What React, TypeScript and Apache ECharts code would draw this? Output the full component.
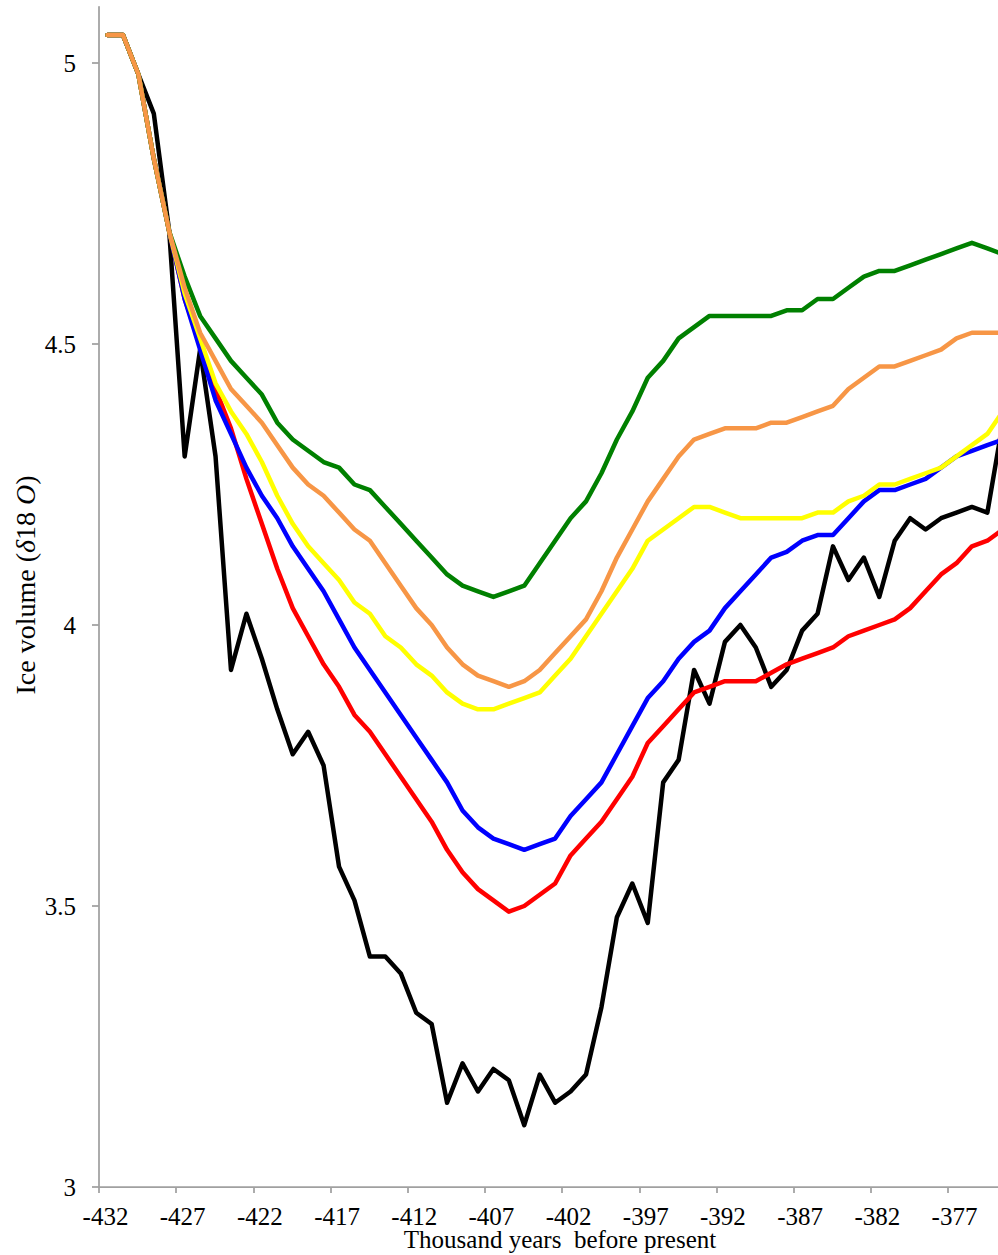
import React, { useEffect, useRef } from "react";
import * as echarts from "echarts";

// Ice-volume (δ18O) trajectories, one value per thousand years, oldest first.
const FIRST_AGE = -431.45; // age of the first sample, thousand years before present
const X_MIN = -432;
const X_MAX = -373.76;
const Y_MIN = 3;
const Y_MAX = 5.1;

const xTickValues = [-432, -427, -422, -417, -412, -407, -402, -397, -392, -387, -382, -377];
const yTickValues = [3, 3.5, 4, 4.5, 5];

const blackValues = [
  5.05, 5.05, 4.98, 4.91, 4.7, 4.3, 4.49, 4.3, 3.92, 4.02,
  3.94, 3.85, 3.77, 3.81, 3.75, 3.57, 3.51, 3.41, 3.41, 3.38,
  3.31, 3.29, 3.15, 3.22, 3.17, 3.21, 3.19, 3.11, 3.2, 3.15,
  3.17, 3.2, 3.32, 3.48, 3.54, 3.47, 3.72, 3.76, 3.92, 3.86,
  3.97, 4.0, 3.96, 3.89, 3.92, 3.99, 4.02, 4.14, 4.08, 4.12,
  4.05, 4.15, 4.19, 4.17, 4.19, 4.2, 4.21, 4.2, 4.36,
];

const redValues = [
  5.05, 5.05, 4.98, 4.83, 4.7, 4.58, 4.5, 4.42, 4.35, 4.26,
  4.18, 4.1, 4.03, 3.98, 3.93, 3.89, 3.84, 3.81, 3.77, 3.73,
  3.69, 3.65, 3.6, 3.56, 3.53, 3.51, 3.49, 3.5, 3.52, 3.54,
  3.59, 3.62, 3.65, 3.69, 3.73, 3.79, 3.82, 3.85, 3.88, 3.89,
  3.9, 3.9, 3.9, 3.915, 3.93, 3.94, 3.95, 3.96, 3.98, 3.99,
  4.0, 4.01, 4.03, 4.06, 4.09, 4.11, 4.14, 4.15, 4.17,
];

const blueValues = [
  5.05, 5.05, 4.98, 4.83, 4.7, 4.58, 4.49, 4.4, 4.34, 4.28,
  4.23, 4.19, 4.14, 4.1, 4.06, 4.01, 3.96, 3.92, 3.88, 3.84,
  3.8, 3.76, 3.72, 3.67, 3.64, 3.62, 3.61, 3.6, 3.61, 3.62,
  3.66, 3.69, 3.72, 3.77, 3.82, 3.87, 3.9, 3.94, 3.97, 3.99,
  4.03, 4.06, 4.09, 4.12, 4.13, 4.15, 4.16, 4.16, 4.19, 4.22,
  4.24, 4.24, 4.25, 4.26, 4.28, 4.3, 4.31, 4.32, 4.33,
];

const yellowValues = [
  5.05, 5.05, 4.98, 4.83, 4.7, 4.59, 4.51, 4.43, 4.38, 4.34,
  4.29, 4.23, 4.18, 4.14, 4.11, 4.08, 4.04, 4.02, 3.98, 3.96,
  3.93, 3.91, 3.88, 3.86, 3.85, 3.85, 3.86, 3.87, 3.88, 3.91,
  3.94, 3.98, 4.02, 4.06, 4.1, 4.15, 4.17, 4.19, 4.21, 4.21,
  4.2, 4.19, 4.19, 4.19, 4.19, 4.19, 4.2, 4.2, 4.22, 4.23,
  4.25, 4.25, 4.26, 4.27, 4.28, 4.3, 4.32, 4.34, 4.38,
];

const greenValues = [
  5.05, 5.05, 4.98, 4.83, 4.7, 4.62, 4.55, 4.51, 4.47, 4.44,
  4.41, 4.36, 4.33, 4.31, 4.29, 4.28, 4.25, 4.24, 4.21, 4.18,
  4.15, 4.12, 4.09, 4.07, 4.06, 4.05, 4.06, 4.07, 4.11, 4.15,
  4.19, 4.22, 4.27, 4.33, 4.38, 4.44, 4.47, 4.51, 4.53, 4.55,
  4.55, 4.55, 4.55, 4.55, 4.56, 4.56, 4.58, 4.58, 4.6, 4.62,
  4.63, 4.63, 4.64, 4.65, 4.66, 4.67, 4.68, 4.67, 4.66,
];

const orangeValues = [
  5.05, 5.05, 4.98, 4.83, 4.7, 4.6, 4.52, 4.47, 4.42, 4.39,
  4.36, 4.32, 4.28, 4.25, 4.23, 4.2, 4.17, 4.15, 4.11, 4.07,
  4.03, 4.0, 3.96, 3.93, 3.91, 3.9, 3.89, 3.9, 3.92, 3.95,
  3.98, 4.01, 4.06, 4.12, 4.17, 4.22, 4.26, 4.3, 4.33, 4.34,
  4.35, 4.35, 4.35, 4.36, 4.36, 4.37, 4.38, 4.39, 4.42, 4.44,
  4.46, 4.46, 4.47, 4.48, 4.49, 4.51, 4.52, 4.52, 4.52,
];

const SERIF = "'Liberation Serif', 'Times New Roman', serif";
const AXIS_COLOR = "#a0a0a0";

const toPoints = (values: number[]) => values.map((v, i) => [FIRST_AGE + i, v]);

const lineSeries = (name: string, values: number[], color: string) => ({
  name,
  type: "line",
  data: toPoints(values),
  symbol: "none",
  showSymbol: false,
  clip: true,
  lineStyle: { color, width: 4.5, cap: "round", join: "round" },
  emphasis: { disabled: true },
});

export default function App() {
  const ref = useRef<HTMLDivElement>(null);

  useEffect(() => {
    if (!ref.current) return;
    const chart = echarts.init(ref.current, undefined, { renderer: "svg" });
    chart.setOption({
      animation: false,
      backgroundColor: "#ffffff",
      grid: { left: 99, right: 0, top: 6.8, bottom: 68, containLabel: false },
      xAxis: {
        type: "value",
        min: X_MIN,
        max: X_MAX,
        axisLine: { show: true, onZero: false, lineStyle: { color: AXIS_COLOR, width: 1.75 } },
        axisTick: {
          show: true,
          customValues: xTickValues,
          length: 6,
          lineStyle: { color: AXIS_COLOR, width: 1.75 },
        },
        axisLabel: {
          customValues: xTickValues,
          margin: 20.5,
          lineHeight: 18,
          padding: [0, 0, 0, 13],
          color: "#000",
          fontFamily: SERIF,
          fontSize: 25,
        },
        splitLine: { show: false },
      },
      yAxis: {
        type: "value",
        min: Y_MIN,
        max: Y_MAX,
        axisLine: { show: true, onZero: false, lineStyle: { color: AXIS_COLOR, width: 1.75 } },
        axisTick: {
          show: true,
          customValues: yTickValues,
          length: 7,
          lineStyle: { color: AXIS_COLOR, width: 1.75 },
        },
        axisLabel: {
          customValues: yTickValues,
          margin: 23,
          color: "#000",
          fontFamily: SERIF,
          fontSize: 25,
        },
        splitLine: { show: false },
      },
      series: [
        lineSeries("Black", blackValues, "#000000"),
        lineSeries("Red", redValues, "#ff0000"),
        lineSeries("Blue", blueValues, "#0000ff"),
        lineSeries("Yellow", yellowValues, "#ffff00"),
        lineSeries("Green", greenValues, "#008000"),
        lineSeries("Orange", orangeValues, "#f79646"),
      ],
      graphic: [
        {
          type: "text",
          x: 560,
          y: 1239,
          silent: true,
          style: {
            text: "Thousand years  before present",
            font: `25px ${SERIF}`,
            lineHeight: 20,
            fill: "#000",
            align: "center",
            verticalAlign: "middle",
          },
        },
        {
          type: "text",
          x: 25,
          y: 585,
          rotation: Math.PI / 2,
          silent: true,
          style: {
            text: "{n|Ice volume (}{i|δ}{n|18 }{i|O}{n|)}",
            align: "center",
            verticalAlign: "middle",
            rich: {
              n: { fontFamily: SERIF, fontSize: 28, fill: "#000", fontStyle: "normal" },
              i: { fontFamily: SERIF, fontSize: 28, fill: "#000", fontStyle: "italic" },
            },
          },
        },
      ],
    });
    return () => chart.dispose();
  }, []);

  return (
    <div
      ref={ref}
      style={{ position: "absolute", left: 0, top: 0, width: 998, height: 1255, background: "#fff" }}
    />
  );
}
